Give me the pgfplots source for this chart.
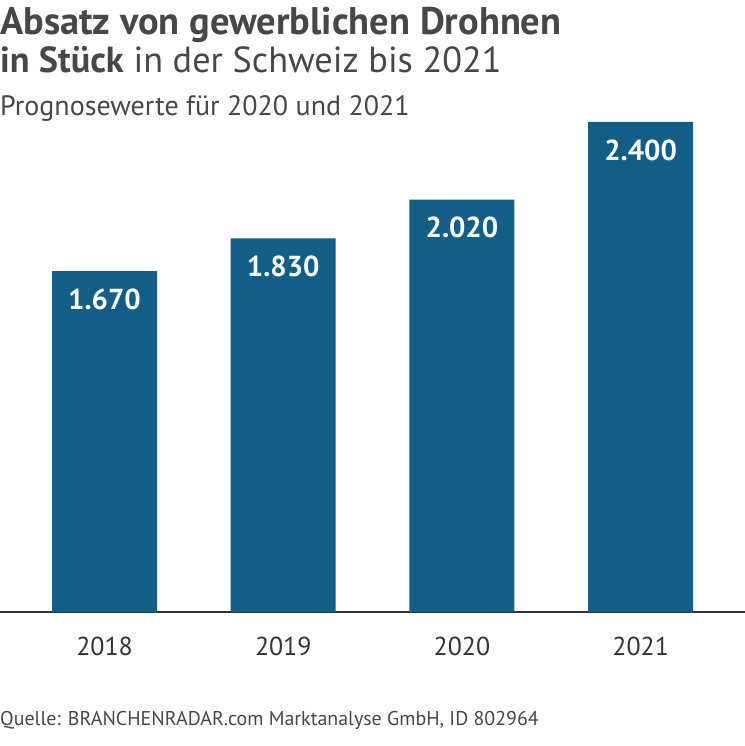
\documentclass[border=0pt]{standalone}
\usepackage{fontspec}
\setmainfont{PT Sans}
\usepackage{pgfplots}
\pgfplotsset{compat=1.18}
\definecolor{barblue}{HTML}{125E87}
\definecolor{txt}{HTML}{474747}
\definecolor{axisgrey}{HTML}{333333}
\begin{document}
\begin{tikzpicture}
\path[use as bounding box] (0,-134bp) rectangle (745bp,612bp);
\begin{axis}[
  at={(0,0)}, anchor=south west,
  scale only axis, width=745bp, height=490bp,
  xmin=-0.585, xmax=3.584, ymin=0, ymax=2400,
  axis x line=bottom, axis y line=none,
  x axis line style={-, line width=2bp, color=axisgrey},
  xtick={0,1,2,3}, xticklabels={2018,2019,2020,2021},
  major tick length=0pt,
  xticklabel style={anchor=base, yshift=-43bp, font=\fontsize{26}{30}\selectfont, text=axisgrey},
  ybar, bar width=105bp,
  /pgf/number format/assume math mode=true,
  nodes near coords={\pgfmathprintnumber[1000 sep={.}]{\pgfplotspointmeta}},
  every node near coord/.append style={anchor=center, yshift=-28bp, font=\bfseries\fontsize{29}{34}\selectfont, text=white},
  clip=false,
]
\addplot[fill=barblue, draw=none] coordinates {(0,1670) (1,1830) (2,2020) (3,2400)};
\end{axis}
\node[anchor=base west, inner sep=0, text=txt, font=\bfseries\fontsize{38.6}{44}\selectfont] at (0,577bp) {Absatz von gewerblichen Drohnen};
\node[anchor=base west, inner sep=0, text=txt, font=\fontsize{36.4}{44}\selectfont] at (0,539bp) {\textbf{in Stück} in der Schweiz bis 2021};
\node[anchor=base west, inner sep=0, text=txt, font=\fontsize{28.1}{32}\selectfont] at (0,496bp) {Prognosewerte für 2020 und 2021};
\node[anchor=base west, inner sep=0, text=txt, font=\fontsize{20}{24}\selectfont] at (0,-113bp) {Quelle: BRANCHENRADAR.com Marktanalyse GmbH, ID 802964};
\end{tikzpicture}
\end{document}
